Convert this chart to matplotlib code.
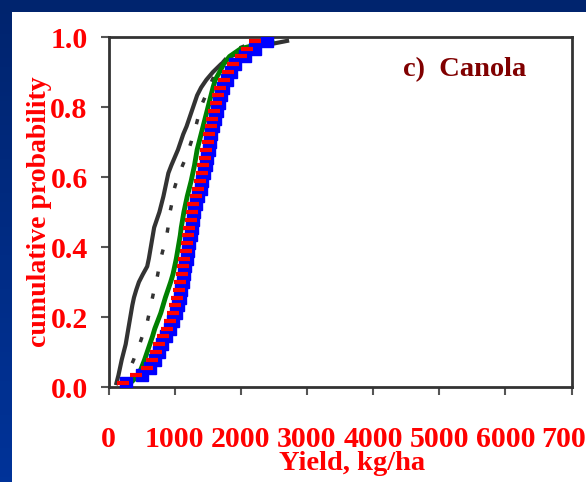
import numpy as np
import matplotlib
matplotlib.use("Agg")
import matplotlib.pyplot as plt

# yields (kg/ha), sorted, one value per simulated season
dark_solid = [120, 150, 175, 200, 230, 260, 280, 300, 320, 340, 360, 385, 420, 460, 520,
              585, 610, 630, 650, 670, 690, 730, 770, 800, 830, 855, 880, 905, 950, 1000,
              1050, 1090, 1130, 1180, 1220, 1260, 1300, 1340, 1400, 1480, 1580, 1700, 1850, 2100, 2700]
dark_dash = [200, 270, 330, 380, 420, 470, 510, 555, 590, 615, 640, 665, 690, 720, 745,
             765, 790, 820, 855, 880, 900, 915, 930, 955, 975, 995, 1030, 1080, 1120, 1170,
             1210, 1250, 1280, 1320, 1350, 1380, 1420, 1470, 1520, 1570, 1620, 1700, 1800, 1950, 2250]
green = [330, 450, 500, 545, 585, 625, 665, 700, 745, 790, 825, 860, 900, 940, 975,
         1000, 1025, 1045, 1065, 1085, 1100, 1120, 1140, 1165, 1190, 1220, 1250, 1275, 1300, 1320,
         1340, 1370, 1400, 1430, 1460, 1490, 1520, 1550, 1580, 1615, 1680, 1740, 1830, 2000, 2470]
blue = [260, 500, 630, 700, 760, 805, 870, 925, 970, 1020, 1050, 1075, 1100, 1120, 1140,
        1160, 1180, 1200, 1220, 1240, 1255, 1275, 1295, 1320, 1360, 1395, 1420, 1445, 1470, 1495,
        1515, 1535, 1555, 1580, 1610, 1640, 1665, 1695, 1730, 1790, 1850, 1920, 2060, 2220, 2400]
red = [220, 420, 580, 660, 720, 770, 830, 885, 930, 975, 1010, 1040, 1065, 1085, 1105,
       1125, 1145, 1165, 1185, 1205, 1220, 1240, 1260, 1285, 1320, 1355, 1385, 1410, 1435, 1460,
       1480, 1500, 1520, 1545, 1570, 1600, 1625, 1655, 1690, 1740, 1800, 1880, 2000, 2100, 2220]

x_ticks = [0, 1000, 2000, 3000, 4000, 5000, 6000, 7000]
y_ticks = [0.0, 0.2, 0.4, 0.6, 0.8, 1.0]


def ecdf(vals):
    v = np.sort(vals)
    p = (np.arange(len(v)) + 0.5) / len(v)
    return v, p


plt.rcParams['font.family'] = ['Liberation Serif', 'DejaVu Serif']
plt.rcParams['font.weight'] = 'bold'

fig = plt.figure(figsize=(5.86, 4.82), dpi=100)
fig.patch.set_facecolor('white')

# navy frame of the slide
top = fig.add_axes([0, 1 - 12 / 482, 1, 12 / 482])
top.set_axis_off()
top.add_patch(plt.Rectangle((0, 0), 1, 1, transform=top.transAxes, color='#00246e'))
side = fig.add_axes([0, 0, 11 / 586, 1])
side.imshow(np.linspace(0, 1, 100).reshape(-1, 1), aspect='auto',
            cmap=matplotlib.colors.LinearSegmentedColormap.from_list('nv', ['#00246e', '#003399']),
            extent=[0, 1, 0, 1], origin='upper')
side.set_axis_off()

ax = fig.add_axes([108.5 / 586, 95 / 482, 463 / 586, 350 / 482])

x, p = ecdf(dark_solid)
ax.plot(x, p, color='#333333', lw=3, zorder=2)
x, p = ecdf(dark_dash)
ax.plot(x, p, color='#333333', lw=2.5, ls=(0, (1.5, 5)), zorder=2)
x, p = ecdf(green)
ax.plot(x, p, color='#008000', lw=3.5, zorder=3)
x, p = ecdf(blue)
ax.plot(x, p, ls='none', marker='s', ms=8, color='#0000ff', mec='#0000ff', zorder=4)
x, p = ecdf(red)
ax.plot(x, p, ls='none', marker='_', ms=8, mew=3, color='#ff0000', zorder=5)

ax.set_xlim(0, 7000)
ax.set_ylim(0, 1)
ax.set_xticks(x_ticks)
ax.set_xticklabels([str(t) for t in x_ticks])
ax.set_yticks(y_ticks)
ax.set_yticklabels(['%.1f' % t for t in y_ticks])
ax.tick_params(axis='both', direction='out', length=6, width=1.5, color='#555555',
               labelsize=21.5, labelcolor='#ff0000')
ax.tick_params(axis='x', pad=22)
ax.tick_params(axis='y', pad=9)
for s in ax.spines.values():
    s.set_color('#333333')
    s.set_linewidth(2)

ax.set_xlabel('Yield, kg/ha', fontsize=20.5, color='#ff0000', fontweight='bold')
ax.xaxis.set_label_coords(0.525, -0.184)
ax.set_ylabel('cumulative probability', fontsize=20, color='#ff0000', fontweight='bold')
ax.yaxis.set_label_coords(-0.122, 0.5)

ax.text(0.636, 0.906, 'c)  Canola', transform=ax.transAxes, fontsize=20.5,
        color='#800000', fontweight='bold', ha='left', va='center')

fig.savefig('out.png', dpi=100)
